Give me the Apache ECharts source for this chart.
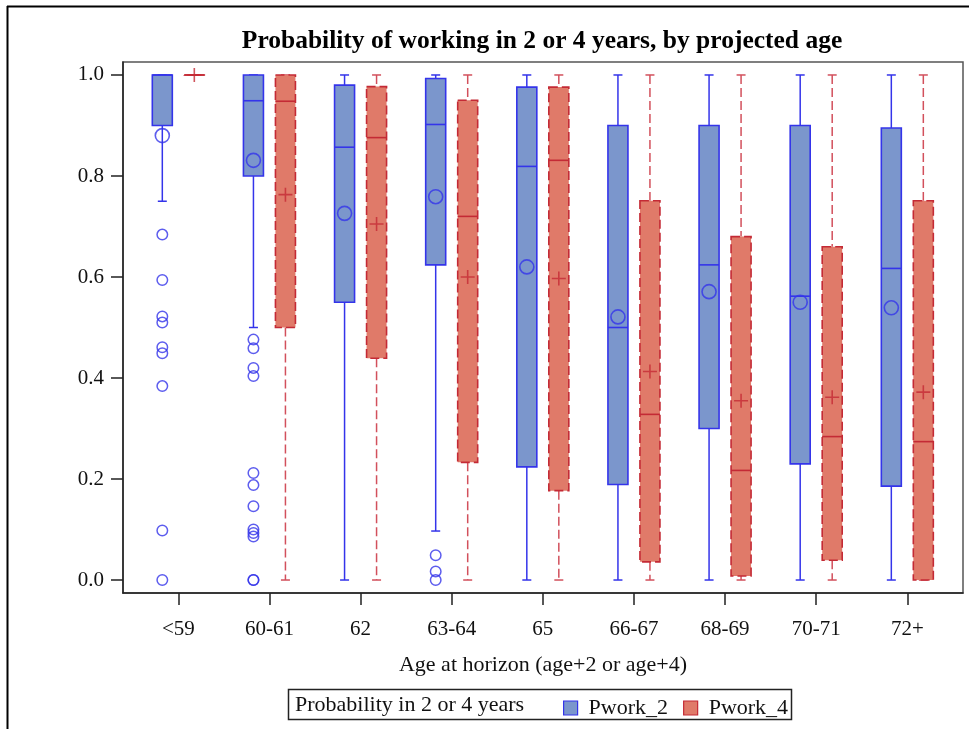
<!DOCTYPE html>
<html>
<head>
<meta charset="utf-8">
<script src="https://cdn.jsdelivr.net/npm/echarts@6/dist/echarts.min.js"></script>
<style>
  html, body { margin: 0; padding: 0; background: #fff; }
  #chart { width: 969px; height: 729px; }
</style>
</head>
<body>
<div id="chart"></div>
<script>
// Age groups at the horizon
const categories = ['<59', '60-61', '62', '63-64', '65', '66-67', '68-69', '70-71', '72+'];

// Box statistics per age group: [lower whisker, Q1, median, Q3, upper whisker]
const pwork2Box = [
  [0.75, 0.90, 1.00, 1.00, 1.00],
  [0.50, 0.80, 0.949, 1.00, 1.00],
  [0.00, 0.55, 0.857, 0.98, 1.00],
  [0.097, 0.624, 0.902, 0.993, 1.00],
  [0.00, 0.224, 0.819, 0.976, 1.00],
  [0.00, 0.189, 0.50, 0.90, 1.00],
  [0.00, 0.30, 0.624, 0.90, 1.00],
  [0.00, 0.230, 0.562, 0.90, 1.00],
  [0.00, 0.186, 0.617, 0.895, 1.00]
];
const pwork4Box = [
  [1.00, 1.00, 1.00, 1.00, 1.00],
  [0.00, 0.50, 0.948, 1.00, 1.00],
  [0.00, 0.439, 0.876, 0.977, 1.00],
  [0.00, 0.233, 0.720, 0.950, 1.00],
  [0.00, 0.177, 0.831, 0.976, 1.00],
  [0.00, 0.036, 0.328, 0.751, 1.00],
  [0.00, 0.008, 0.217, 0.680, 1.00],
  [0.00, 0.039, 0.284, 0.660, 1.00],
  [0.00, 0.000, 0.274, 0.751, 1.00]
];

// Group means
const pwork2Mean = [0.880, 0.831, 0.726, 0.759, 0.620, 0.521, 0.571, 0.550, 0.539];
const pwork4Mean = [1.000, 0.763, 0.705, 0.600, 0.597, 0.413, 0.355, 0.362, 0.372];

// Outliers: [age group index, value]
const pwork2Outliers = [
  [0, 0.684], [0, 0.594], [0, 0.522], [0, 0.510], [0, 0.461], [0, 0.449], [0, 0.384], [0, 0.098], [0, 0.0],
  [1, 0.476], [1, 0.459], [1, 0.420], [1, 0.404], [1, 0.212], [1, 0.188], [1, 0.146],
  [1, 0.100], [1, 0.093], [1, 0.086], [1, 0.0], [1, 0.0],
  [3, 0.049], [3, 0.017], [3, 0.0]
];

const yTicks = [0, 0.2, 0.4, 0.6, 0.8, 1.0];

const FONT = '"Liberation Serif", "Times New Roman", serif';
const BLUE_FILL = '#7b96cc', BLUE_LINE = '#3434ea';
const RED_FILL = '#e07a69', RED_LINE = '#c42a35', RED_WHISKER = '#d2505c';
const PAIR_OFFSET = 16;   // px between a group centre and each box centre

function boxData(stats) {
  return stats.map((s, i) => [i].concat(s));
}
function meanData(means) {
  return means.map((m, i) => [i, m]);
}

function boxRenderer(offset, fill, stroke, whiskerColor, dashed) {
  return function (params, api) {
    const i = api.value(0);
    const lo = api.coord([i, api.value(1)]);
    const q1 = api.coord([i, api.value(2)]);
    const med = api.coord([i, api.value(3)]);
    const q3 = api.coord([i, api.value(4)]);
    const hi = api.coord([i, api.value(5)]);
    const cx = lo[0] + offset;
    const hw = 10, cap = 4.5;
    const dash = dashed ? [9, 4] : null;
    const wStyle = { stroke: whiskerColor, lineWidth: 1.5, lineDash: dash };
    const line = (x1, y1, x2, y2, style) => ({
      type: 'line', shape: { x1, y1, x2, y2 }, style
    });
    return {
      type: 'group',
      children: [
        line(cx, hi[1], cx, q3[1], wStyle),
        line(cx, q1[1], cx, lo[1], wStyle),
        line(cx - cap, hi[1], cx + cap, hi[1], { stroke: whiskerColor, lineWidth: 1.5 }),
        line(cx - cap, lo[1], cx + cap, lo[1], { stroke: whiskerColor, lineWidth: 1.5 }),
        {
          type: 'rect',
          shape: { x: cx - hw, y: q3[1], width: hw * 2, height: Math.max(q1[1] - q3[1], 0.01) },
          style: { fill: fill, stroke: stroke, lineWidth: 1.6, lineDash: dash }
        },
        line(cx - hw, med[1], cx + hw, med[1], { stroke: stroke, lineWidth: 1.6 })
      ]
    };
  };
}

const chart = echarts.init(document.getElementById('chart'), null, { renderer: 'canvas' });

chart.setOption({
  backgroundColor: '#fff',
  animation: false,
  grid: {
    left: 123, top: 62, right: 6, bottom: 136,
    show: true, borderColor: '#555', borderWidth: 1.5
  },
  xAxis: {
    type: 'value',
    min: -0.607, max: 8.611,
    splitLine: { show: false },
    axisLine: { show: true, onZero: false, lineStyle: { color: '#222', width: 1.5 } },
    axisTick: {
      show: true, length: 12, inside: false,
      customValues: categories.map((c, i) => i),
      lineStyle: { color: '#222', width: 1.5 }
    },
    axisLabel: {
      customValues: categories.map((c, i) => i),
      formatter: v => categories[Math.round(v)],
      margin: 26, fontSize: 21, fontFamily: FONT, color: '#111'
    },
    name: 'Age at horizon (age+2 or age+4)',
    nameLocation: 'middle', nameGap: 61,
    nameTextStyle: { fontSize: 22, fontFamily: FONT, color: '#111' }
  },
  yAxis: {
    type: 'value',
    min: -0.0257, max: 1.0257,
    splitLine: { show: false },
    axisLine: { show: true, onZero: false, lineStyle: { color: '#222', width: 1.5 } },
    axisTick: {
      show: true, length: 12,
      customValues: yTicks,
      lineStyle: { color: '#222', width: 1.5 }
    },
    axisLabel: {
      customValues: yTicks,
      formatter: v => v.toFixed(1),
      margin: 19, fontSize: 21, fontFamily: FONT, color: '#111'
    }
  },
  legend: {
    left: 563, top: 697,
    itemWidth: 14, itemHeight: 14, itemGap: 15,
    padding: 0,
    textStyle: { fontSize: 22, fontFamily: FONT, color: '#111', padding: [0, 0, 0, 6] },
    data: [
      { name: 'Pwork_2', icon: 'rect', itemStyle: { color: BLUE_FILL, borderColor: BLUE_LINE, borderWidth: 1.2 } },
      { name: 'Pwork_4', icon: 'rect', itemStyle: { color: RED_FILL, borderColor: RED_LINE, borderWidth: 1.2 } }
    ]
  },
  graphic: [
    // page frame
    { type: 'line', shape: { x1: 7.5, y1: 6, x2: 7.5, y2: 729 }, style: { stroke: '#000', lineWidth: 2 } },
    { type: 'line', shape: { x1: 7, y1: 6.5, x2: 969, y2: 6.5 }, style: { stroke: '#000', lineWidth: 2 } },
    // chart title
    {
      type: 'text', x: 542, y: 41,
      style: {
        text: 'Probability of working in 2 or 4 years, by projected age',
        font: 'bold 25.5px ' + FONT, fill: '#000', align: 'center', verticalAlign: 'middle'
      }
    },
    // legend frame and caption
    {
      type: 'rect', shape: { x: 288.5, y: 689.5, width: 503, height: 30 },
      style: { fill: 'none', stroke: '#222', lineWidth: 1.5 }
    },
    {
      type: 'text', x: 295, y: 705,
      style: {
        text: 'Probability in 2 or 4 years',
        font: '22px ' + FONT, fill: '#111', align: 'left', verticalAlign: 'middle'
      }
    }
  ],
  series: [
    {
      name: 'Pwork_2', type: 'custom',
      renderItem: boxRenderer(-PAIR_OFFSET, BLUE_FILL, BLUE_LINE, BLUE_LINE, false),
      itemStyle: { color: BLUE_FILL },
      encode: { x: 0, y: [1, 2, 3, 4, 5] },
      data: boxData(pwork2Box)
    },
    {
      name: 'Pwork_4', type: 'custom',
      renderItem: boxRenderer(PAIR_OFFSET, RED_FILL, RED_LINE, RED_WHISKER, true),
      itemStyle: { color: RED_FILL },
      encode: { x: 0, y: [1, 2, 3, 4, 5] },
      data: boxData(pwork4Box)
    },
    {
      name: 'Pwork_2 outliers', type: 'scatter',
      symbol: 'circle', symbolSize: 10.5, symbolOffset: [-PAIR_OFFSET, 0],
      itemStyle: { color: 'rgba(0,0,0,0)', borderColor: BLUE_LINE, borderWidth: 1.5 },
      data: pwork2Outliers, z: 3
    },
    {
      name: 'Pwork_2 mean', type: 'scatter',
      symbol: 'circle', symbolSize: 14, symbolOffset: [-PAIR_OFFSET, 0],
      itemStyle: { color: 'rgba(0,0,0,0)', borderColor: BLUE_LINE, borderWidth: 1.6 },
      data: meanData(pwork2Mean), z: 3
    },
    {
      name: 'Pwork_4 mean', type: 'scatter',
      symbol: 'path://M0,5 L10,5 M5,0 L5,10', symbolSize: 14, symbolOffset: [PAIR_OFFSET, 0],
      itemStyle: { color: 'rgba(0,0,0,0)', borderColor: RED_LINE, borderWidth: 1.6 },
      data: meanData(pwork4Mean), z: 3
    }
  ]
});
</script>
</body>
</html>
